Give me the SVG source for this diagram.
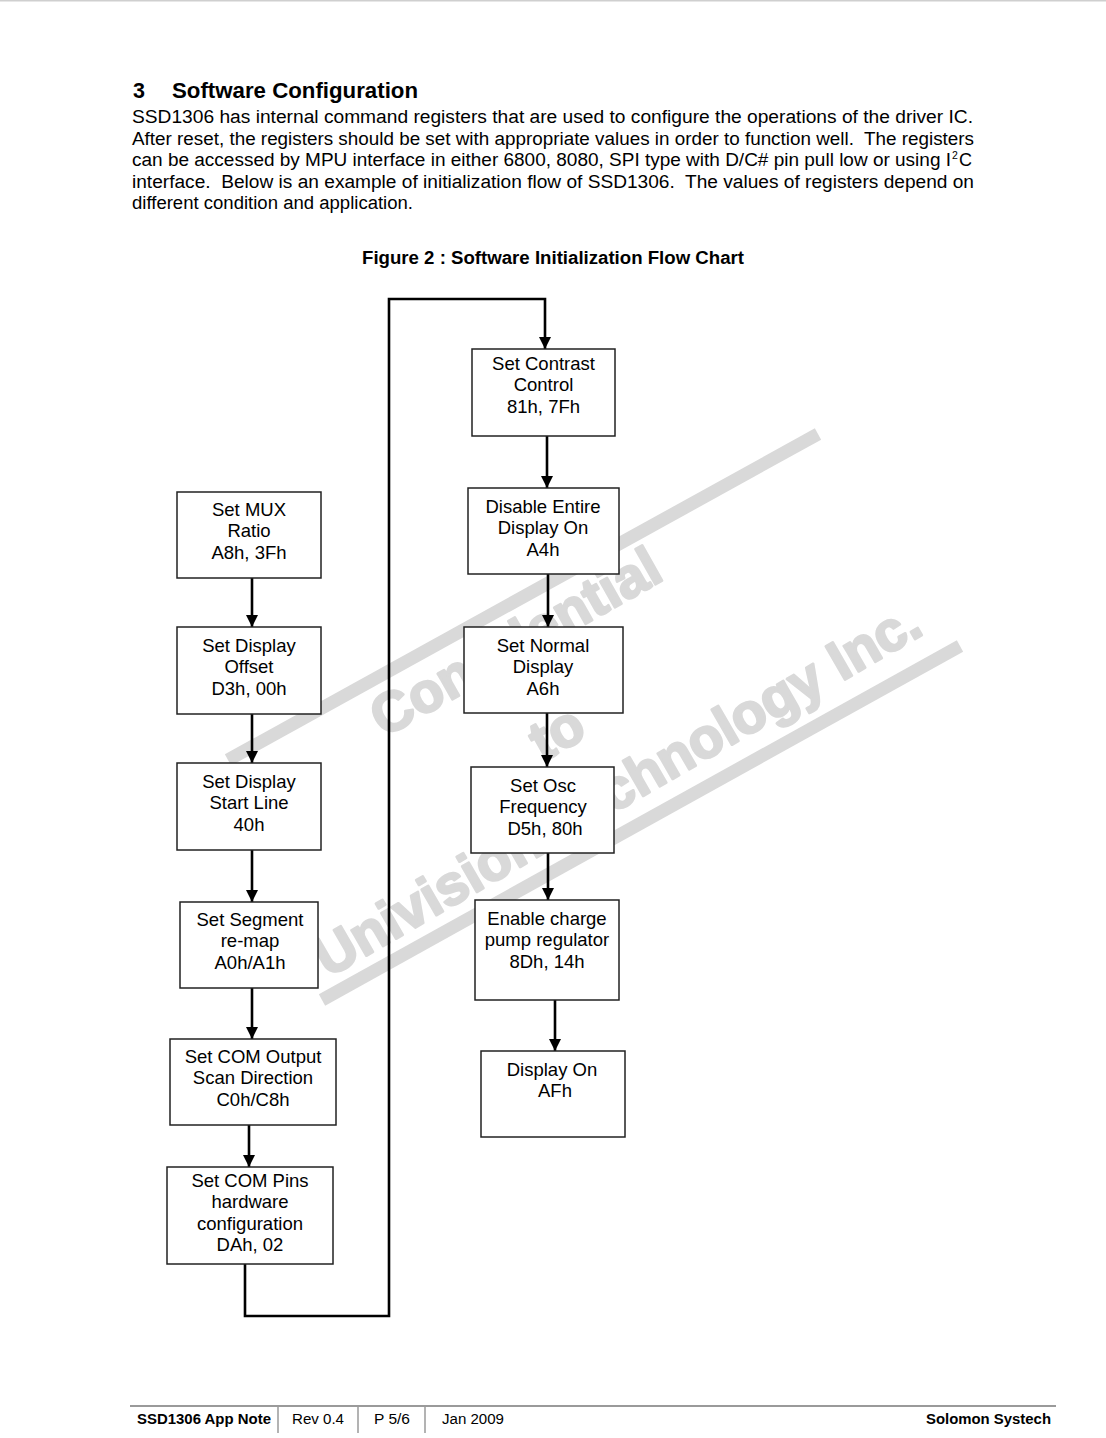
<svg xmlns="http://www.w3.org/2000/svg" width="1106" height="1438" viewBox="0 0 1106 1438">
<style>
.t{font-family:"Liberation Sans",Arial,sans-serif;fill:#000}
.b{font-weight:bold}
.body{font-size:18px}
.box rect{fill:#fff;stroke:#222;stroke-width:1.5}
.box text{font-family:"Liberation Sans",Arial,sans-serif;font-size:18.5px;text-anchor:middle;fill:#000}
.wm{font-family:"Liberation Sans",Arial,sans-serif;font-weight:bold;font-size:56px;fill:#d9d9d9;stroke:#d9d9d9;stroke-width:2.5;stroke-linejoin:round}
.bar{stroke:#d9d9d9;stroke-width:13;fill:none}
.c{stroke:#000;stroke-width:2.6;fill:none}
.ft{font-family:"Liberation Sans",Arial,sans-serif;font-size:14px;fill:#000}
</style>
<defs>
<marker id="ahd" markerUnits="userSpaceOnUse" markerWidth="12" markerHeight="14" refX="12" refY="6" orient="auto" viewBox="0 0 12 12">
<path d="M0,0 L12,6 L0,12 Z" fill="#000"/>
</marker>
</defs>
<rect x="0" y="0" width="1106" height="1438" fill="#fff"/>
<rect x="0" y="0" width="1106" height="1.5" fill="#cfcfcf"/>

<g id="header">
<text class="t b" x="133" y="98" font-size="21.5">3</text>
<text class="t b" x="172" y="98" font-size="21.5" textLength="246" lengthAdjust="spacingAndGlyphs">Software Configuration</text>
<text class="t body" x="132" y="123" textLength="841" lengthAdjust="spacingAndGlyphs">SSD1306 has internal command registers that are used to configure the operations of the driver IC.</text>
<text class="t body" x="132" y="145" textLength="842" lengthAdjust="spacingAndGlyphs" xml:space="preserve">After reset, the registers should be set with appropriate values in order to function well.  The registers</text>
<text class="t body" x="132" y="166" textLength="819" lengthAdjust="spacingAndGlyphs">can be accessed by MPU interface in either 6800, 8080, SPI type with D/C# pin pull low or using I</text>
<text class="t" x="952" y="159" font-size="10.5">2</text>
<text class="t body" x="959" y="166">C</text>
<text class="t body" x="132" y="188" textLength="842" lengthAdjust="spacingAndGlyphs" xml:space="preserve">interface.  Below is an example of initialization flow of SSD1306.  The values of registers depend on</text>
<text class="t body" x="132" y="209" textLength="281" lengthAdjust="spacingAndGlyphs">different condition and application.</text>
<text class="t b" x="362" y="264" font-size="17.5" textLength="382" lengthAdjust="spacingAndGlyphs">Figure 2 : Software Initialization Flow Chart</text>
</g>

<g id="watermark">
<line class="bar" x1="228" y1="760" x2="818" y2="434"/>
<line class="bar" x1="322" y1="1000" x2="960" y2="646"/>
<text class="wm" transform="translate(384,738) rotate(-29.5)">Confidential</text>
<text class="wm" transform="translate(543,762) rotate(-29.5)">to</text>
<text class="wm" transform="translate(328,978) rotate(-30)">Univision Technology Inc.</text>
</g>

<g id="connectors">
<line class="c" x1="252" y1="578" x2="252" y2="627" marker-end="url(#ahd)"/>
<line class="c" x1="252" y1="714" x2="252" y2="763" marker-end="url(#ahd)"/>
<line class="c" x1="252" y1="850" x2="252" y2="902" marker-end="url(#ahd)"/>
<line class="c" x1="252" y1="988" x2="252" y2="1039" marker-end="url(#ahd)"/>
<line class="c" x1="249" y1="1125" x2="249" y2="1167" marker-end="url(#ahd)"/>
<path class="c" d="M245,1264 V1316 H389 V299 H545 V349" marker-end="url(#ahd)"/>
<line class="c" x1="547" y1="436" x2="547" y2="488" marker-end="url(#ahd)"/>
<line class="c" x1="548" y1="574" x2="548" y2="627" marker-end="url(#ahd)"/>
<line class="c" x1="547" y1="713" x2="547" y2="767" marker-end="url(#ahd)"/>
<line class="c" x1="548" y1="853" x2="548" y2="900" marker-end="url(#ahd)"/>
<line class="c" x1="555" y1="1000" x2="555" y2="1051" marker-end="url(#ahd)"/>
</g>

<g id="n-mux" class="box">
<rect x="177" y="492" width="144" height="86"/>
<text x="249" y="515.5">Set MUX</text>
<text x="249" y="537">Ratio</text>
<text x="249" y="558.5">A8h, 3Fh</text>
</g>
<g id="n-offset" class="box">
<rect x="177" y="627" width="144" height="87"/>
<text x="249" y="651.5">Set Display</text>
<text x="249" y="673">Offset</text>
<text x="249" y="694.5">D3h, 00h</text>
</g>
<g id="n-startline" class="box">
<rect x="177" y="763" width="144" height="87"/>
<text x="249" y="787.5">Set Display</text>
<text x="249" y="809">Start Line</text>
<text x="249" y="830.5">40h</text>
</g>
<g id="n-segment" class="box">
<rect x="180" y="902" width="138" height="86"/>
<text x="250" y="925.5">Set Segment</text>
<text x="250" y="947">re-map</text>
<text x="250" y="968.5">A0h/A1h</text>
</g>
<g id="n-comout" class="box">
<rect x="170" y="1039" width="166" height="86"/>
<text x="253" y="1062.5">Set COM Output</text>
<text x="253" y="1084">Scan Direction</text>
<text x="253" y="1105.5">C0h/C8h</text>
</g>
<g id="n-compins" class="box">
<rect x="167" y="1167" width="166" height="97"/>
<text x="250" y="1186.5">Set COM Pins</text>
<text x="250" y="1208">hardware</text>
<text x="250" y="1229.5">configuration</text>
<text x="250" y="1251">DAh, 02</text>
</g>

<g id="n-contrast" class="box">
<rect x="472" y="349" width="143" height="87"/>
<text x="543.5" y="369.5">Set Contrast</text>
<text x="543.5" y="391">Control</text>
<text x="543.5" y="412.5">81h, 7Fh</text>
</g>
<g id="n-disable" class="box">
<rect x="468" y="488" width="151" height="86"/>
<text x="543" y="512.5">Disable Entire</text>
<text x="543" y="534">Display On</text>
<text x="543" y="555.5">A4h</text>
</g>
<g id="n-normal" class="box">
<rect x="464" y="627" width="159" height="86"/>
<text x="543" y="651.5">Set Normal</text>
<text x="543" y="673">Display</text>
<text x="543" y="694.5">A6h</text>
</g>
<g id="n-osc" class="box">
<rect x="471" y="767" width="143" height="86"/>
<text x="543" y="791.5">Set Osc</text>
<text x="543" y="813">Frequency</text>
<text x="545" y="834.5">D5h, 80h</text>
</g>
<g id="n-chargepump" class="box">
<rect x="475" y="900" width="144" height="100"/>
<text x="547" y="924.5">Enable charge</text>
<text x="547" y="946">pump regulator</text>
<text x="547" y="967.5">8Dh, 14h</text>
</g>
<g id="n-displayon" class="box">
<rect x="481" y="1051" width="144" height="86"/>
<text x="552" y="1075.5">Display On</text>
<text x="555" y="1097">AFh</text>
</g>

<g id="footer">
<line x1="130" y1="1406" x2="1056" y2="1406" stroke="#9a9a9a" stroke-width="2"/>
<line x1="278" y1="1406" x2="278" y2="1433" stroke="#9a9a9a" stroke-width="1.5"/>
<line x1="358" y1="1406" x2="358" y2="1433" stroke="#9a9a9a" stroke-width="1.5"/>
<line x1="425" y1="1406" x2="425" y2="1433" stroke="#9a9a9a" stroke-width="1.5"/>
<text class="ft b" x="137" y="1424" textLength="134" lengthAdjust="spacingAndGlyphs">SSD1306 App Note</text>
<text class="ft" x="292" y="1424" textLength="52" lengthAdjust="spacingAndGlyphs">Rev 0.4</text>
<text class="ft" x="374" y="1424" textLength="36" lengthAdjust="spacingAndGlyphs">P 5/6</text>
<text class="ft" x="442" y="1424" textLength="62" lengthAdjust="spacingAndGlyphs">Jan 2009</text>
<text class="ft b" x="1051" y="1424" text-anchor="end" textLength="125" lengthAdjust="spacingAndGlyphs">Solomon Systech</text>
</g>
</svg>
